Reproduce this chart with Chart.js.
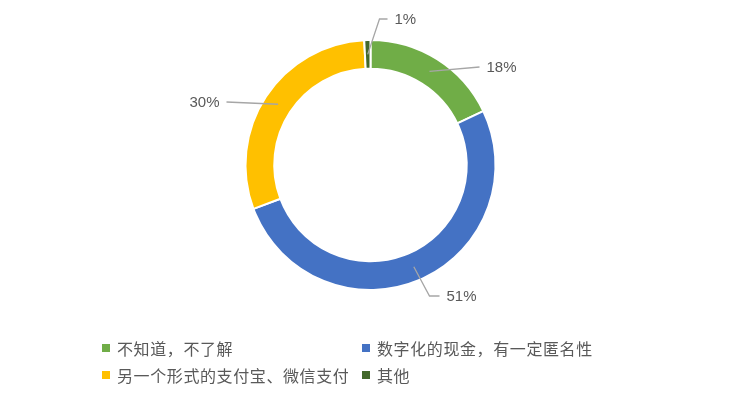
<!DOCTYPE html>
<html><head><meta charset="utf-8">
<script src="https://cdn.jsdelivr.net/npm/chart.js@4"></script>
<style>
html,body{margin:0;padding:0;background:#fff;}
#wrap{position:relative;width:741px;height:404px;}
#legend{position:absolute;left:0;top:0;width:741px;height:404px;pointer-events:none;font-family:"Noto Sans CJK SC","Noto Sans",sans-serif;font-size:16px;color:#595959;}
.item{position:absolute;display:flex;align-items:center;white-space:nowrap;height:20px;line-height:20px;letter-spacing:0.6px;}
.box{width:8px;height:8px;margin-right:7px;flex:none;}
</style></head><body>
<div id="wrap"><canvas id="c" width="741" height="404"></canvas><div id="legend"></div></div>
<script>
const categories = ['不知道，不了解','数字化的现金，有一定匿名性','另一个形式的支付宝、微信支付','其他'];
const values = [17.9, 51.4, 29.9, 0.8];
const percentLabels = ['18%','51%','30%','1%'];
const colors = ['#70AD47','#4472C4','#FFC000','#43682B'];

// label leader geometry (offsets from chart centre), style only
const labelLayout = [
  {dx:109, dy:-98, h:0, side:1},
  {dx:59, dy:131, h:10, side:1},
  {dx:-144, dy:-63, h:0, side:-1},
  {dx:9, dy:-146, h:8, side:1}
];
// legend grid positions
const legendCols = [102, 362];
const legendRows = [338, 365];

const leaderPlugin = {
  id:'leader',
  afterDatasetsDraw(chart){
    const ctx = chart.ctx;
    const meta = chart.getDatasetMeta(0);
    ctx.save();
    meta.data.forEach((arc,i)=>{
      const p = arc.getProps(['x','y','startAngle','endAngle','innerRadius','outerRadius'], true);
      const mid = (p.startAngle + p.endAngle)/2;
      const r = (p.innerRadius + p.outerRadius)/2;
      const ax = p.x + Math.cos(mid)*r, ay = p.y + Math.sin(mid)*r;
      const L = labelLayout[i];
      const ex = p.x + L.dx, ey = p.y + L.dy;
      const tx = ex + L.h*L.side;
      ctx.beginPath();
      ctx.moveTo(ax, ay);
      ctx.lineTo(ex, ey);
      ctx.lineTo(tx, ey);
      ctx.strokeStyle = '#A6A6A6';
      ctx.lineWidth = 1.3;
      ctx.stroke();
      ctx.fillStyle = '#595959';
      ctx.font = '15px "Liberation Sans", Arial, sans-serif';
      ctx.textBaseline = 'middle';
      ctx.textAlign = L.side > 0 ? 'left' : 'right';
      ctx.fillText(percentLabels[i], tx + 7*L.side, ey + 1);
    });
    ctx.restore();
  }
};

new Chart(document.getElementById('c'), {
  type:'doughnut',
  data:{
    labels:categories,
    datasets:[{data:values, backgroundColor:colors, borderColor:'#FFFFFF', borderWidth:2, hoverOffset:0}]
  },
  options:{
    responsive:false,
    animation:false,
    cutout:'77%',
    layout:{padding:{top:39, bottom:113, left:0, right:0}},
    plugins:{legend:{display:false}, tooltip:{enabled:false}}
  },
  plugins:[leaderPlugin]
});

const lg = document.getElementById('legend');
categories.forEach((c,i)=>{
  const d = document.createElement('div');
  d.className = 'item';
  d.style.left = legendCols[i%2] + 'px';
  d.style.top = legendRows[Math.floor(i/2)] + 'px';
  const b = document.createElement('span');
  b.className = 'box';
  b.style.background = colors[i];
  const t = document.createElement('span');
  t.textContent = c;
  d.appendChild(b); d.appendChild(t);
  lg.appendChild(d);
});
</script>
</body></html>
